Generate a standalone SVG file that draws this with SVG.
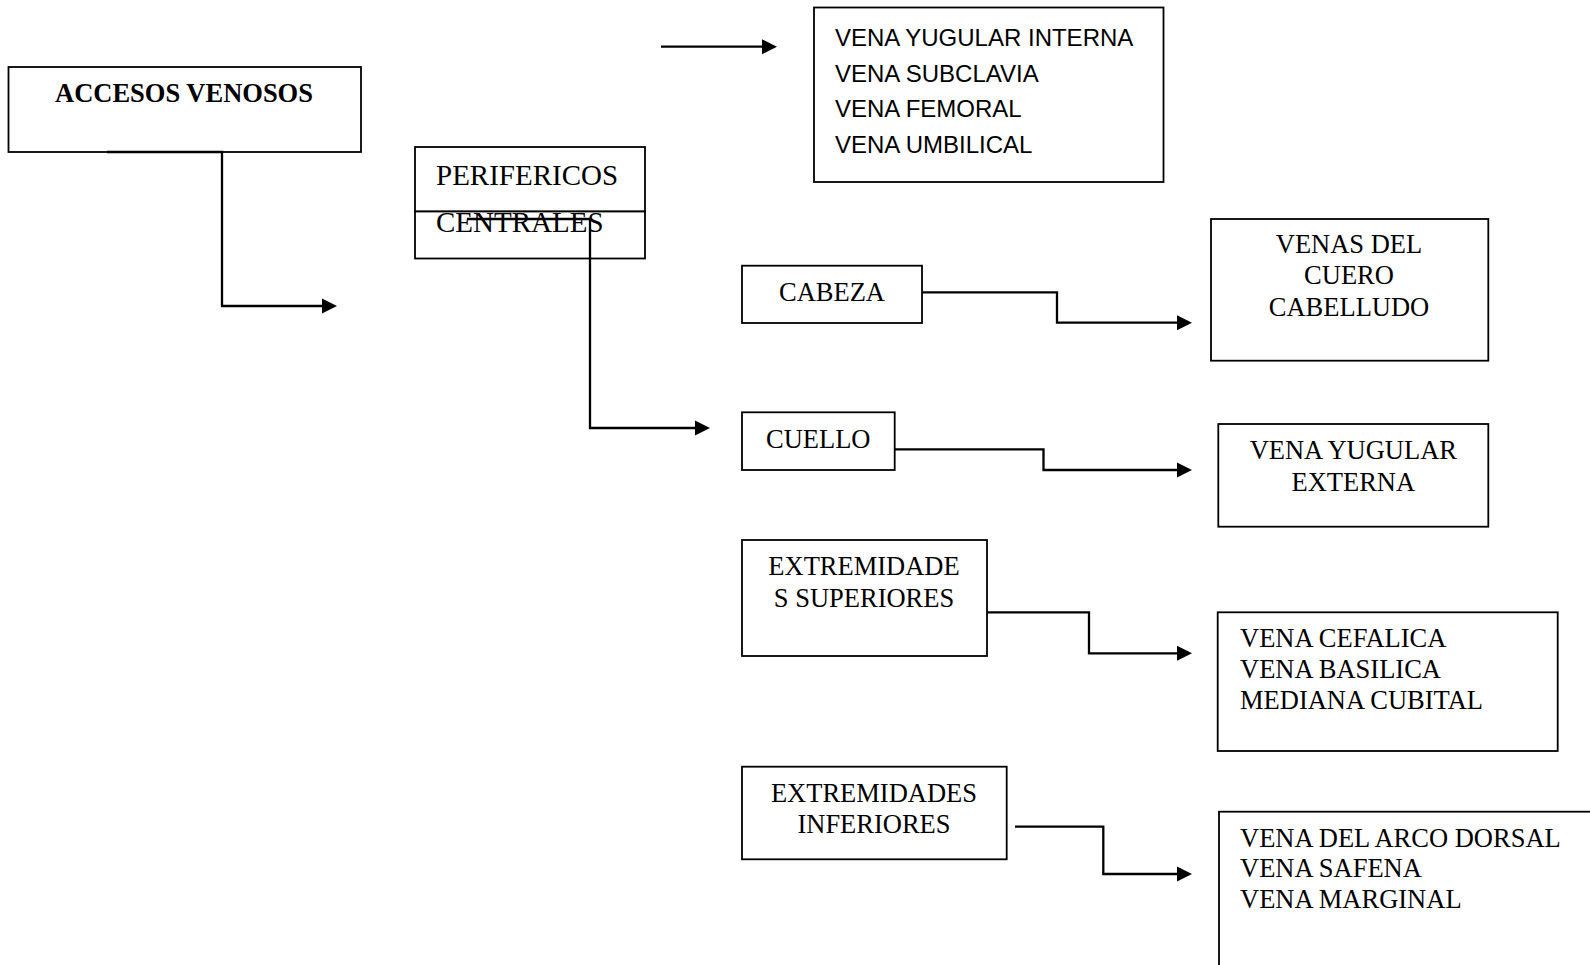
<svg xmlns="http://www.w3.org/2000/svg" width="1590" height="965" viewBox="0 0 1590 965">
<style>
.box{fill:#fff;stroke:#000;stroke-width:1.8}
.serif{font-family:"Liberation Serif","Times New Roman",serif;font-size:26.5px;fill:#000}
.big{font-size:29px}
.bold{font-weight:bold}
.sans{font-family:"Liberation Sans",Arial,sans-serif;font-size:24px;fill:#000}
.mid{text-anchor:middle}
.conn{fill:none;stroke:#000;stroke-width:2.3}
</style>
<defs>
<marker id="arr" markerUnits="userSpaceOnUse" markerWidth="15" markerHeight="16" viewBox="0 0 15 16" refX="0" refY="8" orient="auto">
<path d="M0,0.5 L15,8 L0,15.5 z" fill="#000"/>
</marker>
</defs>
<rect width="1590" height="965" fill="#fff"/>
<g id="accesos">
<rect class="box" x="8.5" y="67" width="352.5" height="85"/>
<text class="serif bold mid" x="184" y="102.3">ACCESOS VENOSOS</text>
</g>
<g id="perifericos">
<rect class="box" x="415" y="147" width="230" height="64.5"/>
<text class="serif big" x="436" y="185">PERIFERICOS</text>
</g>
<g id="centrales">
<rect class="box" x="415" y="211.5" width="230" height="47"/>
<text class="serif big" x="436" y="231.7">CENTRALES</text>
</g>
<g id="centrales-list">
<rect class="box" x="814" y="7.5" width="349.5" height="174.5"/>
<text class="sans" x="835" y="45.7">VENA YUGULAR INTERNA</text>
<text class="sans" x="835" y="81.7">VENA SUBCLAVIA</text>
<text class="sans" x="835" y="116.7">VENA FEMORAL</text>
<text class="sans" x="835" y="153.3">VENA UMBILICAL</text>
</g>
<g id="cabeza">
<rect class="box" x="742" y="265.7" width="180" height="57.3"/>
<text class="serif" x="779" y="301">CABEZA</text>
</g>
<g id="cuello">
<rect class="box" x="742" y="412.3" width="152.7" height="57.7"/>
<text class="serif" x="766" y="448.3">CUELLO</text>
</g>
<g id="ext-sup">
<rect class="box" x="742" y="540" width="245" height="116"/>
<text class="serif mid" x="864" y="575">EXTREMIDADE</text>
<text class="serif mid" x="864" y="606.7">S SUPERIORES</text>
</g>
<g id="ext-inf">
<rect class="box" x="742" y="766.7" width="264.7" height="92.6"/>
<text class="serif mid" x="874" y="801.7">EXTREMIDADES</text>
<text class="serif mid" x="874" y="832.7">INFERIORES</text>
</g>
<g id="venas-cuero">
<rect class="box" x="1211" y="219" width="277.3" height="141.7"/>
<text class="serif mid" x="1349" y="253.3">VENAS DEL</text>
<text class="serif mid" x="1349" y="283.5">CUERO</text>
<text class="serif mid" x="1349" y="315.7">CABELLUDO</text>
</g>
<g id="yugular-externa">
<rect class="box" x="1218.3" y="424" width="270" height="102.7"/>
<text class="serif mid" x="1353.3" y="459.3">VENA YUGULAR</text>
<text class="serif mid" x="1353.3" y="490.7">EXTERNA</text>
</g>
<g id="venas-sup">
<rect class="box" x="1217.7" y="612.3" width="340" height="138.7"/>
<text class="serif" x="1240" y="647">VENA CEFALICA</text>
<text class="serif" x="1240" y="678.3">VENA BASILICA</text>
<text class="serif" x="1240" y="708.7">MEDIANA CUBITAL</text>
</g>
<g id="venas-inf">
<rect class="box" x="1219" y="811.7" width="400" height="200"/>
<text class="serif" x="1240" y="846.7">VENA DEL ARCO DORSAL</text>
<text class="serif" x="1240" y="877.3">VENA SAFENA</text>
<text class="serif" x="1240" y="907.7">VENA MARGINAL</text>
</g>
<g id="connectors">
<path class="conn" d="M107,152 H222 V306 H322" marker-end="url(#arr)"/>
<path class="conn" d="M661,46.7 H762" marker-end="url(#arr)"/>
<path class="conn" d="M467,219 H590 V428 H695" marker-end="url(#arr)"/>
<path class="conn" d="M922,292.3 H1057 V322.7 H1177" marker-end="url(#arr)"/>
<path class="conn" d="M895,449.3 H1043.5 V470 H1177" marker-end="url(#arr)"/>
<path class="conn" d="M987,612.3 H1089 V653.3 H1177" marker-end="url(#arr)"/>
<path class="conn" d="M1015,826.7 H1103.3 V874 H1177" marker-end="url(#arr)"/>
</g>
</svg>
